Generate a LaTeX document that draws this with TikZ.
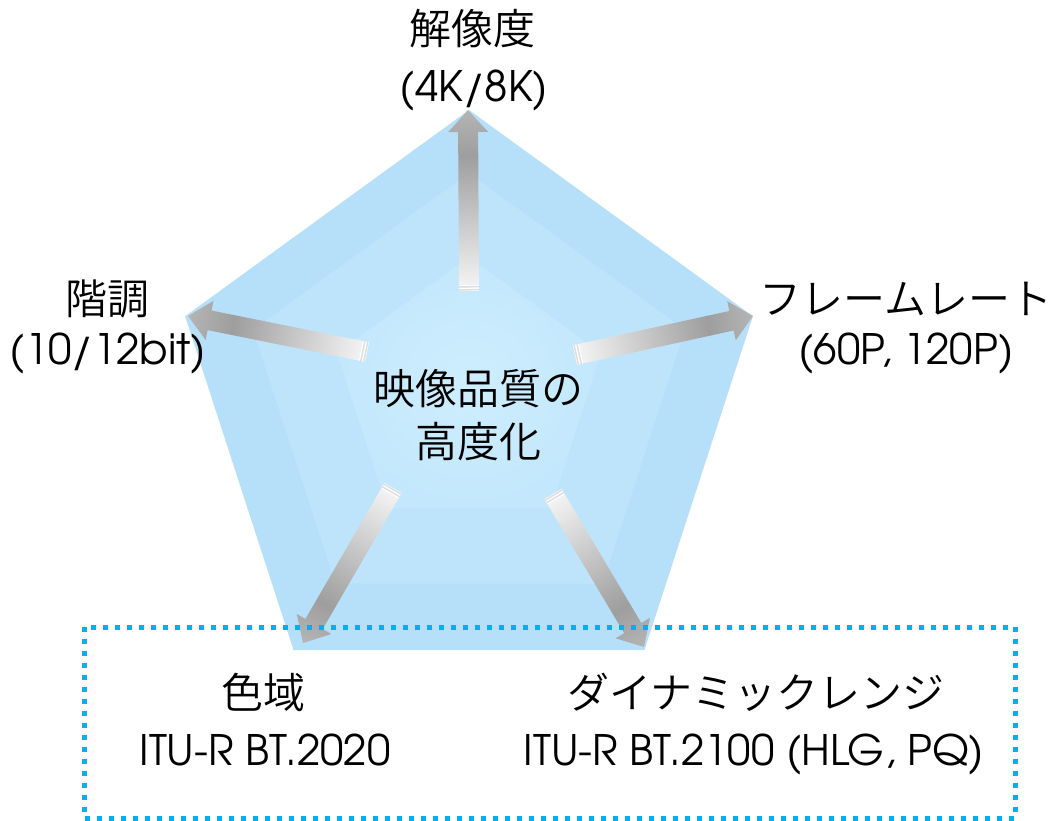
\documentclass[tikz,border=0pt]{standalone}
\usepackage{fontspec}
\IfFontExistsTF{Noto Sans CJK JP DemiLight}{\newfontfamily\jp{Noto Sans CJK JP DemiLight}}{%
  \IfFontExistsTF{Noto Sans CJK JP Light}{\newfontfamily\jp{Noto Sans CJK JP Light}}{\newfontfamily\jp{Noto Sans CJK JP}}}
\newfontfamily\lat{TeX Gyre Adventor}
\usetikzlibrary{calc}
\definecolor{pentA}{HTML}{B6E0FA}
\definecolor{pentB}{HTML}{BEE4FB}
\definecolor{pentC}{HTML}{C3E7FC}
\definecolor{pentD}{HTML}{CDEEFD}
\definecolor{dotblue}{HTML}{00B0F0}
\definecolor{gA}{HTML}{F2F2F2}
\definecolor{gB}{HTML}{9E9E9E}
\definecolor{gC}{HTML}{B5B5B5}
\definecolor{stripegray}{HTML}{DDDDDD}
\pgfdeclarehorizontalshading{garrowshade}{100bp}{color(0bp)=(gA); color(25bp)=(gA); color(62bp)=(gB); color(75bp)=(gC); color(100bp)=(gC)}
\makeatletter
\newcommand\garrow[2]{%
  \pgfpointdiff{\pgfpointanchor{#1}{center}}{\pgfpointanchor{#2}{center}}%
  \edef\ga@x{\strip@pt\pgf@x}\edef\ga@y{\strip@pt\pgf@y}%
  \pgfmathsetmacro\gaL{veclen(\ga@x,\ga@y)}%
  \pgfmathsetmacro\gaA{atan2(\ga@y,\ga@x)}%
  \begin{scope}[transform canvas={shift={(#1)},rotate=\gaA}]
    \fill[white] (0,-10) rectangle (6.5,10);
    \fill[stripegray] (0.5,-10) rectangle (2,10);
    \fill[stripegray] (3.5,-10) rectangle (5,10);
    \shade[shading=garrowshade] (6.5,-10) -- (\gaL-22,-10) -- (\gaL-22,-20) -- (\gaL,0)
      -- (\gaL-22,20) -- (\gaL-22,10) -- (6.5,10) -- cycle;
  \end{scope}}
\makeatother
\tikzset{
  jp/.style={font=\jp\fontsize{42}{42}\selectfont, anchor=base, inner sep=0pt},
  lt/.style={font=\lat\fontsize{42}{42}\selectfont, anchor=base, inner sep=0pt},
  dotbox/.style={draw=dotblue, line width=5pt, dash pattern=on 5pt off 7pt}
}
\begin{document}
\begin{tikzpicture}[x=1pt,y=-1pt]
\useasboundingbox[fill=white] (0,0) rectangle (1056,820);
% pentagon layers
\coordinate (c1) at (469,408.5);
\coordinate (c2) at (469,400);
\coordinate (c3) at (469,396);
\fill[pentA] ($(c1)+(-90:298.5)$) -- ($(c1)+(-18:298.5)$) -- ($(c1)+(54:298.5)$) -- ($(c1)+(126:298.5)$) -- ($(c1)+(198:298.5)$) -- cycle;
\fill[pentB] ($(c2)+(-90:227)$) -- ($(c2)+(-18:227)$) -- ($(c2)+(54:227)$) -- ($(c2)+(126:227)$) -- ($(c2)+(198:227)$) -- cycle;
\shade[inner color=pentD, outer color=pentC] ($(c3)+(-90:139)$) -- ($(c3)+(-18:139)$) -- ($(c3)+(54:139)$) -- ($(c3)+(126:139)$) -- ($(c3)+(198:139)$) -- cycle;
% arrows
\coordinate (tT) at (469,291);  \coordinate (hT) at (468,110);
\coordinate (tL) at (367,352);  \coordinate (hL) at (188,316);
\coordinate (tR) at (575,355);  \coordinate (hR) at (753,316);
\coordinate (tBL) at (393,488); \coordinate (hBL) at (303,643);
\coordinate (tBR) at (553,494); \coordinate (hBR) at (644,647);
\garrow{tT}{hT}
\garrow{tL}{hL}
\garrow{tR}{hR}
\garrow{tBL}{hBL}
\garrow{tBR}{hBR}
% texts
\node[jp] (res) at (472,44) {解像度};
\node[lt] (resv) at (474,101) {(4K/8K)};
\node[jp] (grad) at (107,314) {階調};
\node[lt] (gradv) at (108,364) {(10/12bit)};
\node[jp] (fr) at (906,314) {フレームレート};
\node[lt] (frv) at (906,364) {(60P, 120P)};
\node[jp] (ctr1) at (478,404) {映像品質の};
\node[jp] (ctr2) at (478,457) {高度化};
\node[jp] (cg) at (263,708) {色域};
\node[lt] (cgv) at (265,765) {ITU-R BT.2020};
\node[jp] (dr) at (756,708) {ダイナミックレンジ};
\node[lt] (drv) at (754,765) {ITU-R BT.2100 (HLG, PQ)};
% dotted box
\coordinate (b1) at (84,627);
\coordinate (b2) at (1015,818);
\draw[dotbox] (b1) rectangle (b2);
\end{tikzpicture}
\end{document}
